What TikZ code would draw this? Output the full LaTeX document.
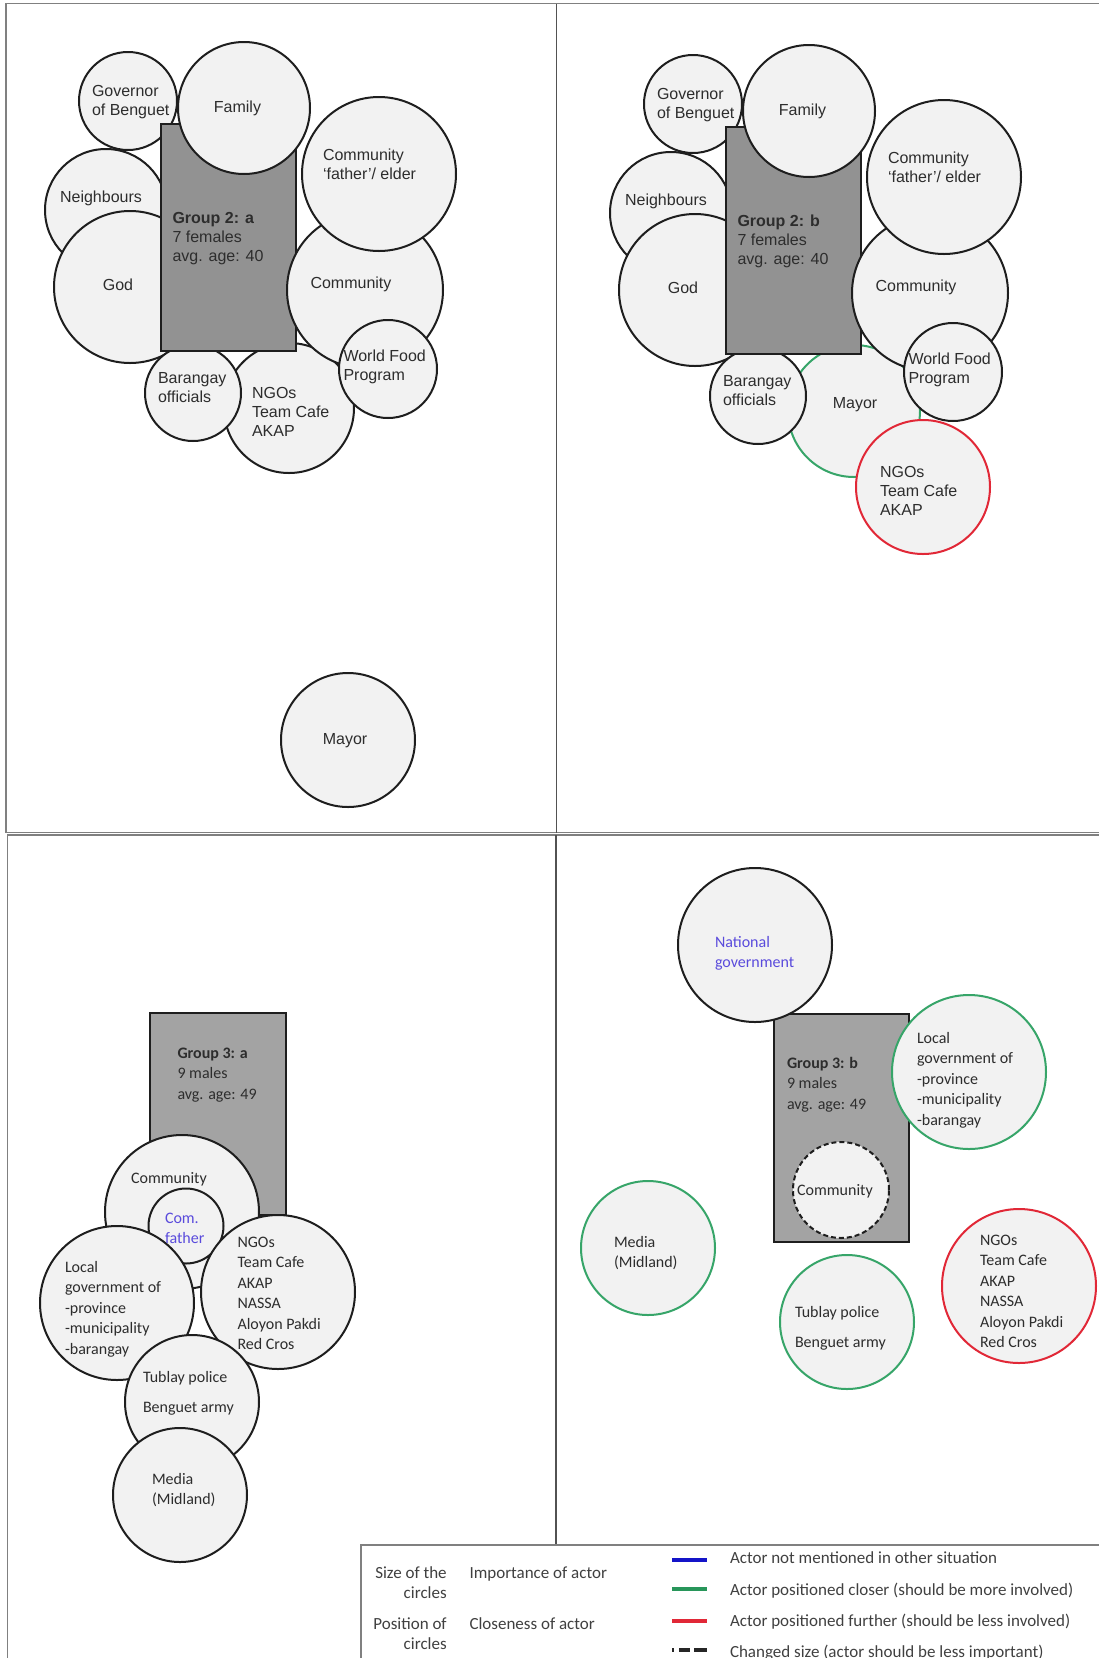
\documentclass[tikz,border=0pt]{standalone}
\usepackage{fontspec}
\setmainfont{Liberation Sans}
\newfontfamily\calfont{Carlito}

% stacked lines whose baseline is the first line
\newcommand\rowsl[1]{\begin{tabular}[t]{@{}l@{}}#1\end{tabular}}
\newcommand\rowsr[1]{\begin{tabular}[t]{@{}r@{}}#1\end{tabular}}

\definecolor{ink}{RGB}{30,30,30}
\definecolor{inktext}{RGB}{45,45,45}
\definecolor{disc}{RGB}{242,242,242}
\definecolor{boxtop}{RGB}{146,146,146}
\definecolor{boxlow}{RGB}{163,163,163}
\definecolor{closegreen}{RGB}{55,165,105}
\definecolor{farred}{RGB}{225,40,55}
\definecolor{newblue}{RGB}{20,20,200}
\definecolor{bluetext}{RGB}{90,75,220}
\definecolor{keygreen}{RGB}{40,150,90}

\tikzset{
  actor/.style={circle, draw=ink, fill=disc, line width=2pt,
    minimum size=#1, inner sep=0pt, outer sep=0pt},
  closer/.style={draw=closegreen},
  further/.style={draw=farred},
  shrunk/.style={dash pattern=on 5pt off 3pt},
  groupbox/.style={rectangle, draw=ink, fill=#1, line width=1.6pt,
    anchor=north west, inner sep=0pt, outer sep=0pt},
  lbl/.style={inner sep=0pt, outer sep=0pt, anchor=base west, text=inktext,
    font=\fontsize{16}{19}\selectfont},
  lblc/.style={lbl, anchor=base},
  clbl/.style={lbl, font=\calfont\fontsize{16}{20.5}\selectfont},
  clblc/.style={clbl, anchor=base},
  keytext/.style={inner sep=0pt, outer sep=0pt, anchor=base west,
    text=black!75, font=\calfont\fontsize{17}{20}\selectfont},
  frameline/.style={draw=black!50, line width=1.5pt},
  midline/.style={draw=black!68, line width=1.5pt},
  swatch/.style={line width=3.5pt},
}

\begin{document}
\begin{tikzpicture}[x=1pt, y=-1pt]
\useasboundingbox (0,0) rectangle (1099,1658);
\fill[white] (0,0) rectangle (1099,1658);

% ---------- panel frames ----------
\draw[frameline] (1102,3.5) -- (6,3.5) -- (6,832.5) -- (1102,832.5);
\draw[midline] (556.5,3.5) -- (556.5,832.5);
\draw[frameline] (1102,835) -- (7.5,835) -- (7.5,1662);
\draw[midline] (556,835) -- (556,1545);
\draw[frameline] (361,1662) -- (361,1545) -- (1102,1545);

% ---------- Group 2: a ----------
\node[actor=98pt]  (gova) at (128,101) {};
\node[actor=122pt] (neia) at (106,210) {};
\node[actor=152pt] (goda) at (130,287) {};
\node[actor=130pt] (ngoa) at (289,408) {};
\node[actor=96pt]  (bara) at (193,393) {};
\node[groupbox=boxtop, minimum width=135pt, minimum height=227pt] (g2a) at (161,124) {};
\node[actor=132pt] (fama) at (244,108) {};
\node[actor=156pt] (coma) at (365,290) {};
\node[actor=154pt] (cfa)  at (379,174) {};
\node[actor=98pt]  (wfpa) at (388,369) {};
\node[actor=134pt] (maya) at (348,740) {};

\node[lbl]  (tgova) at (92,96.5) {\rowsl{Governor\\of Benguet}};
\node[lblc] (tfama) at (237.5,112.5) {Family};
\node[lblc] (tneia) at (101,202.5) {Neighbours};
\node[lblc] (tgoda) at (118,290.5) {God};
\node[lbl]  (tg2a)  at (172.5,223.5) {\rowsl{\textbf{Group 2: a}\\7 females\\avg. age: 40}};
\node[lbl]  (tcfa)  at (323,160.5) {\rowsl{Community\\‘father’/ elder}};
\node[lblc] (tcoma) at (351,288.5) {Community};
\node[lbl]  (twfpa) at (343.5,361.5) {\rowsl{World Food\\Program}};
\node[lbl]  (tbara) at (158,383.5) {\rowsl{Barangay\\officials}};
\node[lbl]  (tngoa) at (252,398.5) {\rowsl{NGOs\\Team Cafe\\AKAP}};
\node[lblc] (tmaya) at (345,744.5) {Mayor};

% ---------- Group 2: b ----------
\node[actor=98pt]  (govb) at (693,104) {};
\node[actor=122pt] (neib) at (671,213) {};
\node[actor=152pt] (godb) at (695,290) {};
\node[actor=132pt, closer] (mayb) at (854,411) {};
\node[actor=96pt]  (barb) at (758,396) {};
\node[groupbox=boxtop, minimum width=135pt, minimum height=227pt] (g2b) at (726,127) {};
\node[actor=132pt] (famb) at (809,111) {};
\node[actor=156pt] (comb) at (930,293) {};
\node[actor=154pt] (cfb)  at (944,177) {};
\node[actor=98pt]  (wfpb) at (953,372) {};
\node[actor=134pt, further] (ngob) at (923,487) {};

\node[lbl]  (tgovb) at (657,99.5) {\rowsl{Governor\\of Benguet}};
\node[lblc] (tfamb) at (802.5,115.5) {Family};
\node[lblc] (tneib) at (666,205.5) {Neighbours};
\node[lblc] (tgodb) at (683,293.5) {God};
\node[lbl]  (tg2b)  at (737.5,226.5) {\rowsl{\textbf{Group 2: b}\\7 females\\avg. age: 40}};
\node[lbl]  (tcfb)  at (888,163.5) {\rowsl{Community\\‘father’/ elder}};
\node[lblc] (tcomb) at (916,291.5) {Community};
\node[lbl]  (twfpb) at (908.5,364.5) {\rowsl{World Food\\Program}};
\node[lbl]  (tbarb) at (723,386.5) {\rowsl{Barangay\\officials}};
\node[lblc] (tmayb) at (855,408.5) {Mayor};
\node[lbl]  (tngob) at (880,477.5) {\rowsl{NGOs\\Team Cafe\\AKAP}};

% ---------- Group 3: a ----------
\node[groupbox=boxlow, minimum width=136pt, minimum height=202pt] (g3a) at (150,1013) {};
\node[actor=154pt] (com3a) at (182,1212) {};
\node[actor=75pt]  (cf3a)  at (186,1226) {};
\node[actor=154pt] (ngo3a) at (278,1292) {};
\node[actor=154pt] (loc3a) at (117,1303) {};
\node[actor=134pt] (tub3a) at (192,1402) {};
\node[actor=134pt] (med3a) at (180,1495) {};

\node[clbl]  (tg3a)   at (177.5,1058) {\rowsl{\textbf{Group 3: a}\\9 males\\avg. age: 49}};
\node[clblc] (tcom3a) at (169,1183) {Community};
\node[clbl, text=bluetext] (tcf3a) at (165,1223) {\rowsl{Com.\\father}};
\node[clbl]  (tloc3a) at (65,1272) {\rowsl{Local\\government of\\-province\\-municipality\\-barangay}};
\node[clbl]  (tngo3a) at (237.5,1247) {\rowsl{NGOs\\Team Cafe\\AKAP\\NASSA\\Aloyon Pakdi\\Red Cros}};
\node[clbl]  (ttub3a) at (143,1382) {\rowsl{Tublay police\\[9.5pt]Benguet army}};
\node[clbl]  (tmed3a) at (152,1484) {\rowsl{Media\\(Midland)}};

% ---------- Group 3: b ----------
\node[groupbox=boxlow, minimum width=135pt, minimum height=228pt] (g3b) at (774,1014) {};
\node[actor=96pt, shrunk] (com3b) at (841,1190) {};
\node[actor=154pt] (nat3b) at (755,945) {};
\node[actor=154pt, closer] (loc3b) at (969,1072) {};
\node[actor=134pt, closer] (med3b) at (648,1248) {};
\node[actor=134pt, closer] (tub3b) at (847,1322) {};
\node[actor=154pt, further] (ngo3b) at (1019,1286) {};

\node[clbl, text=bluetext] (tnat3b) at (715,947) {\rowsl{National\\government}};
\node[clbl]  (tg3b)   at (787,1068) {\rowsl{\textbf{Group 3: b}\\9 males\\avg. age: 49}};
\node[clbl]  (tloc3b) at (917,1043) {\rowsl{Local\\government of\\-province\\-municipality\\-barangay}};
\node[clblc] (tcom3b) at (835,1195) {Community};
\node[clbl]  (tmed3b) at (614,1247) {\rowsl{Media\\(Midland)}};
\node[clbl]  (ttub3b) at (795,1317) {\rowsl{Tublay police\\[10pt]Benguet army}};
\node[clbl]  (tngo3b) at (980,1245) {\rowsl{NGOs\\Team Cafe\\AKAP\\NASSA\\Aloyon Pakdi\\Red Cros}};

% ---------- key ----------
\node[keytext, anchor=base east] (ksize) at (446.7,1578) {\rowsr{Size of the\\circles}};
\node[keytext, anchor=base east] (kpos)  at (446.7,1629) {\rowsr{Position of\\circles}};
\node[keytext] (kimp)  at (469.5,1578) {Importance of actor};
\node[keytext] (kclo)  at (469.5,1629) {Closeness of actor};

\coordinate (sb1) at (672,1560); \coordinate (sb2) at (707,1560);
\coordinate (sg1) at (672,1589); \coordinate (sg2) at (707,1589);
\coordinate (sr1) at (672,1621); \coordinate (sr2) at (707,1621);
\coordinate (sd1) at (672,1650); \coordinate (sd2) at (707,1650);
\draw[swatch, newblue] (sb1) -- (sb2);
\draw[swatch, keygreen] (sg1) -- (sg2);
\draw[swatch, farred] (sr1) -- (sr2);
\draw[swatch, black!85, dash pattern=on 2pt off 5pt on 11pt off 4pt on 13pt off 2pt] (sd1) -- (sd2);

\node[keytext] (knew) at (730,1563) {Actor not mentioned in other situation};
\node[keytext] (kcls) at (730,1595) {Actor positioned closer (should be more involved)};
\node[keytext] (kfar) at (730,1626) {Actor positioned further (should be less involved)};
\node[keytext] (kchg) at (730,1657) {Changed size (actor should be less important)};
\end{tikzpicture}
\end{document}
